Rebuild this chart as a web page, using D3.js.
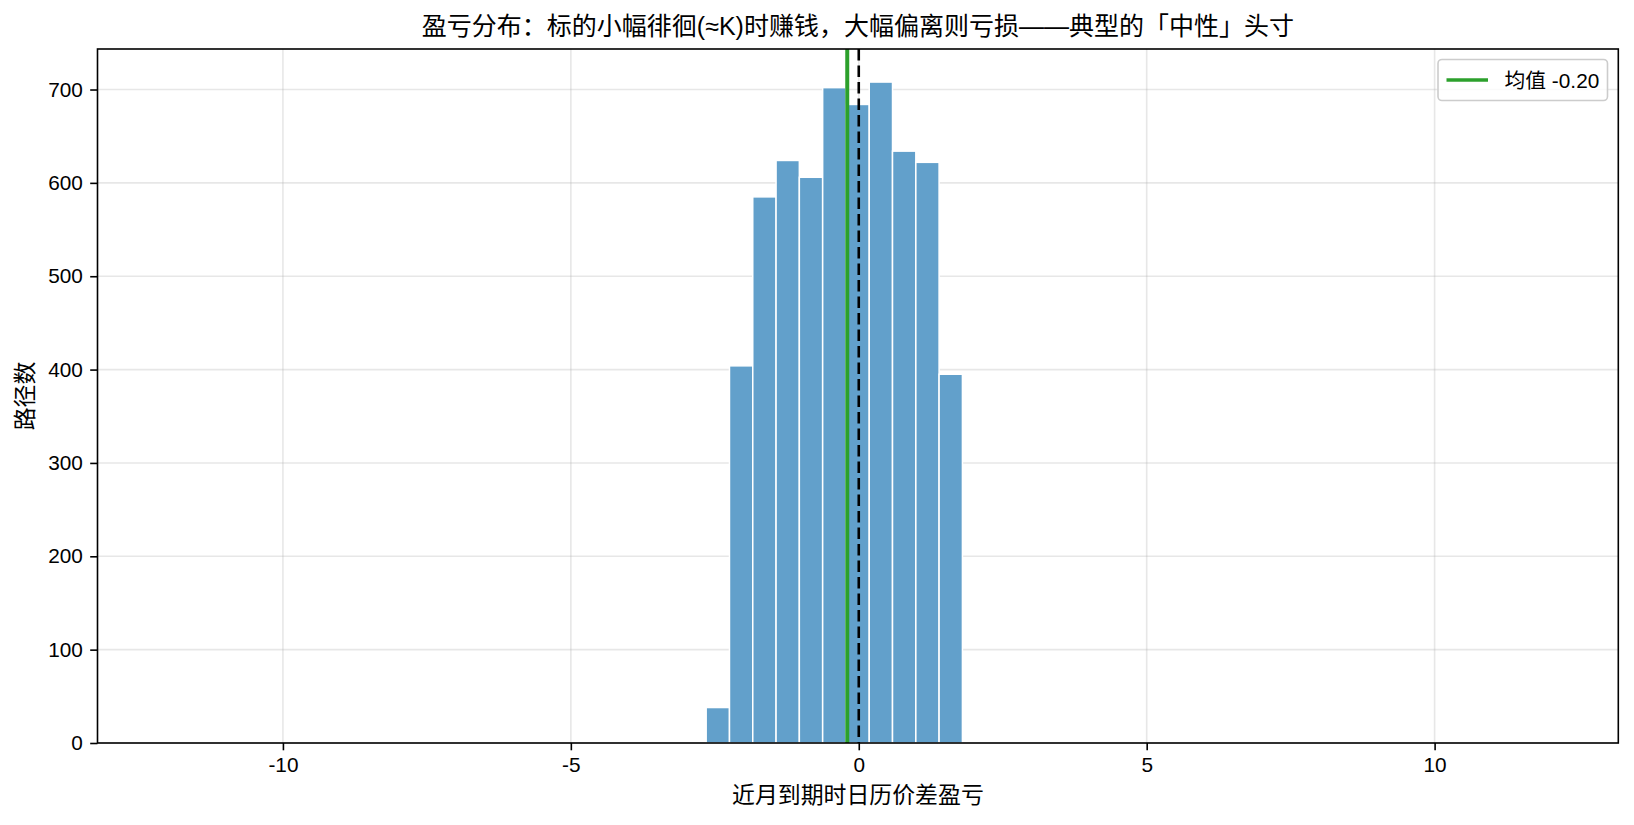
<!DOCTYPE html>
<html><head><meta charset="utf-8">
<script src="https://cdn.jsdelivr.net/npm/d3@7/dist/d3.min.js"></script>
<style>
html,body{margin:0;padding:0;background:#fff;}
svg text{font-family:"Liberation Sans","Noto Sans CJK SC",sans-serif;fill:#000;}
</style></head>
<body>
<svg id="chart" width="1634" height="825"></svg>
<script>
// ---- data ----
const binEdges = [-2.65, -2.245, -1.841, -1.436, -1.032, -0.627, -0.223, 0.182, 0.586, 0.991, 1.395, 1.80];
const counts   = [38, 404, 585, 624, 606, 702, 684, 708, 634, 622, 395];
const meanValue = -0.20;
const zeroLine = 0;
const xTicks = [-10, -5, 0, 5, 10];
const yTicks = [0, 100, 200, 300, 400, 500, 600, 700];
const xDomain = [-13.22, 13.19];
const titleText = "盈亏分布：标的小幅徘徊(≈K)时赚钱，大幅偏离则亏损——典型的「中性」头寸";
const xLabel = "近月到期时日历价差盈亏";
const yLabel = "路径数";
const legendLabel = "均值 -0.20";

// ---- layout ----
const L = 97.5, R = 1618.3, T = 49, B = 743;
const svg = d3.select("#chart");
const x = d3.scaleLinear().domain(xDomain).range([L, R]);
const y = d3.scaleLinear().domain([0, d3.max(counts) * 1.05]).range([B, T]);

// grid
const grid = svg.append("g");
grid.selectAll("line.gx").data(xTicks).enter().append("line")
  .attr("x1", d => x(d)).attr("x2", d => x(d)).attr("y1", T).attr("y2", B)
  .attr("stroke", "#b0b0b0").attr("stroke-opacity", 0.3).attr("stroke-width", 1.6);
grid.selectAll("line.gy").data(yTicks).enter().append("line")
  .attr("x1", L).attr("x2", R).attr("y1", d => y(d)).attr("y2", d => y(d))
  .attr("stroke", "#b0b0b0").attr("stroke-opacity", 0.3).attr("stroke-width", 1.6);

// bars
const bins = counts.map((c, i) => ({x0: binEdges[i], x1: binEdges[i + 1], c}));
svg.append("g").selectAll("rect").data(bins).enter().append("rect")
  .attr("x", d => x(d.x0)).attr("width", d => x(d.x1) - x(d.x0))
  .attr("y", d => y(d.c)).attr("height", d => y(0) - y(d.c))
  .attr("fill", "rgb(98,160,203)")
  .attr("stroke", "#ffffff").attr("stroke-width", 1.5);

// mean line and zero line
svg.append("line").attr("x1", x(meanValue)).attr("x2", x(meanValue)).attr("y1", T).attr("y2", B)
  .attr("stroke", "#2ca02c").attr("stroke-width", 4);
svg.append("line").attr("x1", x(zeroLine)).attr("x2", x(zeroLine)).attr("y1", T).attr("y2", B)
  .attr("stroke", "#000").attr("stroke-width", 2.6).attr("stroke-dasharray", "11.5,5");

// axes
const xAxis = d3.axisBottom(x).tickValues(xTicks).tickSize(7.3).tickPadding(7.3)
  .tickFormat(d => d < 0 ? "-" + Math.abs(d) : String(d));
const gx = svg.append("g").attr("transform", `translate(0,${B})`).call(xAxis);
const yAxis = d3.axisLeft(y).tickValues(yTicks).tickSize(7.3).tickPadding(7.3);
const gy = svg.append("g").attr("transform", `translate(${L},0)`).call(yAxis);
[gx, gy].forEach(g => {
  g.select(".domain").remove();
  g.selectAll(".tick line").attr("stroke", "#000").attr("stroke-width", 1.6);
  g.selectAll(".tick text").attr("font-size", "20.8px").attr("fill", "#000")
    .style("font-family", '"Liberation Sans","Noto Sans CJK SC",sans-serif');
});

// spines
svg.append("rect").attr("x", L).attr("y", T).attr("width", R - L).attr("height", B - T)
  .attr("fill", "none").attr("stroke", "#000").attr("stroke-width", 1.6);

// title & labels
svg.append("text").attr("x", (L + R) / 2).attr("y", 35).attr("text-anchor", "middle")
  .attr("font-size", "25px").text(titleText);
svg.append("text").attr("x", (L + R) / 2).attr("y", 803).attr("text-anchor", "middle")
  .attr("font-size", "22.9px").text(xLabel);
svg.append("text").attr("transform", `translate(33,${(T + B) / 2}) rotate(-90)`)
  .attr("text-anchor", "middle").attr("font-size", "22.9px").text(yLabel);

// legend
const lg = svg.append("g");
lg.append("rect").attr("x", 1438).attr("y", 59.5).attr("width", 169.5).attr("height", 41)
  .attr("rx", 4).attr("fill", "#fff").attr("fill-opacity", 0.8)
  .attr("stroke", "#cccccc").attr("stroke-width", 1.6);
lg.append("line").attr("x1", 1446.5).attr("x2", 1488).attr("y1", 80).attr("y2", 80)
  .attr("stroke", "#2ca02c").attr("stroke-width", 3.5);
lg.append("text").attr("x", 1504.5).attr("y", 87.5).attr("font-size", "20.8px").text(legendLabel);
</script>
</body></html>
